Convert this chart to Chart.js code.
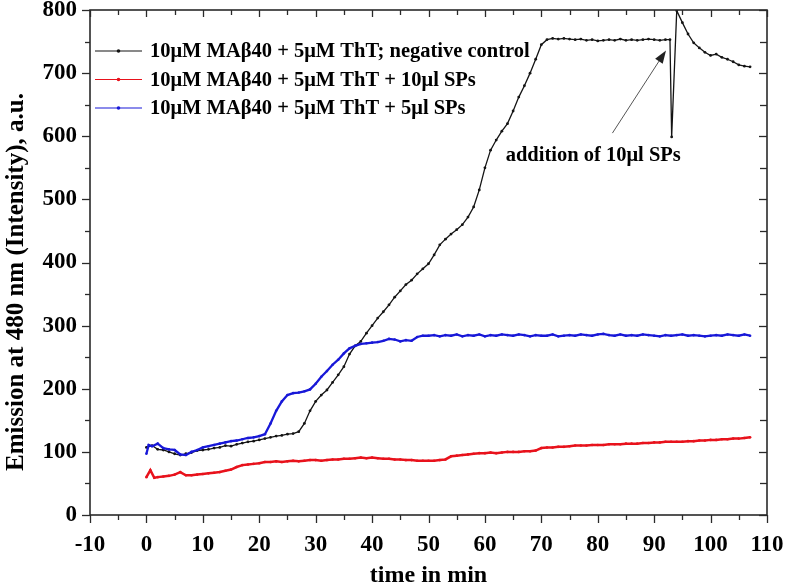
<!DOCTYPE html>
<html><head><meta charset="utf-8">
<script src="https://cdn.jsdelivr.net/npm/chart.js@4.4.1/dist/chart.umd.min.js"></script>
<style>html,body{margin:0;padding:0;background:#fff}#wrap{width:787px;height:586px}</style>
</head><body><div id="wrap"><canvas id="c" width="787" height="586"></canvas></div>
<script>
// ---------- DATA ----------
const seriesNames = [
  "10\u03bcM MA\u03b240 + 5\u03bcM ThT; negative control",
  "10\u03bcM MA\u03b240 + 5\u03bcM ThT + 10\u03bcl SPs",
  "10\u03bcM MA\u03b240 + 5\u03bcM ThT + 5\u03bcl SPs"
];
const xTickValues = [-10,0,10,20,30,40,50,60,70,80,90,100,110];
const yTickValues = [0,100,200,300,400,500,600,700,800];
const xTitle = "time in min";
const yTitle = "Emission at 480 nm (Intensity), a.u.";
const annotationText = "addition of 10\u03bcl SPs";
// annotation in data units: text centre, arrow tail, arrow tip
const annotationTextAt = [79.2, 569];
const arrowFrom = [82.6, 605];
const arrowTo = [92.1, 736];

const timesBlack = [0,1,2,3,4,5,6,7,8,9,10,11,12,13,14,15,16,17,18,19,20,21,22,23,24,25,26,27,28,29,30,31,32,33,34,35,36,37,38,39,40,41,42,43,44,45,46,47,48,49,50,51,52,53,54,55,56,57,58,59,60,61,62,63,64,65,66,67,68,69,70,71,72,73,74,75,76,77,78,79,80,81,82,83,84,85,86,87,88,89,90,91,92,92.8,93.1,94,95,96,97,98,99,100,101,102,103,104,105,106,107];
const valuesBlack = [107,110,104,103,100,97,95,97,99,102,103,104,106,107,110,109,112,114,116,117,119,121,123,125,126,128,129,132,145,165,180,190,198,210,222,235,255,268,275,288,300,312,322,333,345,355,365,372,382,390,398,412,428,437,445,452,460,472,488,515,550,578,594,608,620,640,662,680,700,722,745,753,755,754,755,754,753,754,752,753,751,752,753,752,754,752,753,752,753,754,753,752,753,753,599,799,780,762,748,740,733,728,730,725,722,718,713,711,710];

const timesRed = [0,0.7,1.4,2,3,4,5,6,7,8,9,10,11,12,13,14,15,16,17,18,19,20,21,22,23,24,25,26,27,28,29,30,31,32,33,34,35,36,37,38,39,40,41,42,43,44,45,46,47,48,49,50,51,52,53,54,55,56,57,58,59,60,61,62,63,64,65,66,67,68,69,70,71,72,73,74,75,76,77,78,79,80,81,82,83,84,85,86,87,88,89,90,91,92,93,94,95,96,97,98,99,100,101,102,103,104,105,106,107];
const valuesRed = [60,71,59,60,61,62,64,68,63,63,64,65,66,67,68,70,72,76,79,80,81,82,84,84,85,84,85,86,85,86,87,87,86,87,88,88,89,89,90,91,90,91,90,89,89,88,88,87,87,86,86,86,86,87,88,93,94,95,96,97,98,98,99,98,99,100,100,100,101,101,102,106,107,107,108,108,109,110,110,110,111,111,111,112,112,112,113,113,113,114,114,115,115,116,116,116,116,117,117,118,118,119,119,120,120,121,121,122,123];

const timesBlue = [0,0.4,1,2,3,4,5,6,7,8,9,10,11,12,13,14,15,16,17,18,19,20,21,22,23,24,25,26,27,28,29,30,31,32,33,34,35,36,37,38,39,40,41,42,43,44,45,46,47,48,49,50,51,52,53,54,55,56,57,58,59,60,61,62,63,64,65,66,67,68,69,70,71,72,73,74,75,76,77,78,79,80,81,82,83,84,85,86,87,88,89,90,91,92,93,94,95,96,97,98,99,100,101,102,103,104,105,106,107];
const valuesBlue = [97,111,109,113,106,104,103,96,95,100,103,107,109,111,113,115,117,118,120,122,123,125,128,145,165,180,190,193,194,196,199,208,219,228,238,246,256,264,268,271,272,273,274,276,279,278,275,277,276,282,284,284,285,283,285,284,286,283,285,284,286,283,285,284,286,285,284,286,285,283,285,284,284,286,283,284,285,284,286,285,284,286,287,285,284,286,284,285,284,286,285,284,283,285,284,285,286,284,285,284,283,284,285,284,286,285,284,286,284];

// ---------- CHART ----------
const FONT = '"Liberation Serif", "Times New Roman", serif';
const colBlack = '#141414', colRed = '#e8121c', colBlue = '#1818d8';
const pts = (ts, vs) => ts.map((t, i) => ({x: t, y: vs[i]}));

const decor = {
  id: 'decor',
  afterDraw(chart) {
    const {ctx, chartArea: a, scales: {x, y}} = chart;
    ctx.save();
    const line = (x1, y1, x2, y2) => { ctx.beginPath(); ctx.moveTo(x1, y1); ctx.lineTo(x2, y2); ctx.stroke(); };
    ctx.strokeStyle = '#2a2a2a';
    ctx.lineWidth = 1.6;
    ctx.strokeRect(a.left, a.top, a.right - a.left, a.bottom - a.top);
    ctx.lineWidth = 1.3;
    for (let v = -10; v <= 110; v += 5) {
      const px = Math.round(x.getPixelForValue(v)) + 0.5;
      const major = v % 10 === 0;
      line(px, a.bottom, px, a.bottom + (major ? 8 : 5));
      line(px, a.top, px, a.top + (major ? 7 : 5));
    }
    for (let v = 0; v <= 800; v += 50) {
      const py = Math.round(y.getPixelForValue(v)) + 0.5;
      const major = v % 100 === 0;
      line(a.left - (major ? 8 : 5), py, a.left, py);
      line(a.right - (major ? 8 : 7), py, a.right, py);
    }
    // legend
    const cols = [colBlack, colRed, colBlue];
    ctx.font = 'bold 20.5px ' + FONT;
    ctx.textBaseline = 'middle';
    ctx.textAlign = 'left';
    seriesNames.forEach((name, i) => {
      const cy = 51 + i * 28.5;
      ctx.strokeStyle = cols[i];
      ctx.lineWidth = 1.2;
      line(95, cy, 142, cy);
      ctx.fillStyle = cols[i];
      ctx.beginPath(); ctx.arc(118.5, cy, 1.8, 0, Math.PI * 2); ctx.fill();
      ctx.fillStyle = '#000';
      ctx.fillText(name, 150, cy + 1);
    });
    // annotation
    const fx = x.getPixelForValue(arrowFrom[0]), fy = y.getPixelForValue(arrowFrom[1]);
    const tx = x.getPixelForValue(arrowTo[0]), ty = y.getPixelForValue(arrowTo[1]);
    const ang = Math.atan2(ty - fy, tx - fx);
    ctx.strokeStyle = '#555'; ctx.fillStyle = '#222'; ctx.lineWidth = 1;
    line(fx, fy, tx - 10 * Math.cos(ang), ty - 10 * Math.sin(ang));
    ctx.beginPath();
    ctx.moveTo(tx, ty);
    ctx.lineTo(tx - 13 * Math.cos(ang) + 4.5 * Math.sin(ang), ty - 13 * Math.sin(ang) - 4.5 * Math.cos(ang));
    ctx.lineTo(tx - 13 * Math.cos(ang) - 4.5 * Math.sin(ang), ty - 13 * Math.sin(ang) + 4.5 * Math.cos(ang));
    ctx.closePath(); ctx.fill();
    ctx.fillStyle = '#000';
    ctx.font = 'bold 20.5px ' + FONT;
    ctx.textAlign = 'center';
    ctx.fillText(annotationText, x.getPixelForValue(annotationTextAt[0]), y.getPixelForValue(annotationTextAt[1]));
    // y title
    ctx.translate(16, 282);
    ctx.rotate(-Math.PI / 2);
    ctx.font = 'bold 25px ' + FONT;
    ctx.fillText(yTitle, 0, 1);
    ctx.restore();
  }
};

new Chart(document.getElementById('c'), {
  type: 'line',
  data: {
    datasets: [
      {label: seriesNames[0], data: pts(timesBlack, valuesBlack), borderColor: colBlack, backgroundColor: colBlack, borderWidth: 1.3, pointRadius: 1.4, pointBorderWidth: 0, order: 1},
      {label: seriesNames[1], data: pts(timesRed, valuesRed), borderColor: colRed, backgroundColor: colRed, borderWidth: 2.5, pointRadius: 1.3, pointBorderWidth: 0, order: 2},
      {label: seriesNames[2], data: pts(timesBlue, valuesBlue), borderColor: colBlue, backgroundColor: colBlue, borderWidth: 2.3, pointRadius: 1.3, pointBorderWidth: 0, order: 0}
    ]
  },
  options: {
    responsive: false,
    animation: false,
    devicePixelRatio: 1,
    layout: {padding: {left: 2, top: 10, right: 20, bottom: 0}},
    plugins: {legend: {display: false}, tooltip: {enabled: false}},
    scales: {
      x: {
        type: 'linear', min: -10, max: 110,
        afterBuildTicks: s => { s.ticks = xTickValues.map(v => ({value: v})); },
        afterFit: s => { s.height = 71; s.paddingLeft = 0; s.paddingRight = 0; },
        grid: {display: false, drawTicks: false},
        border: {display: false},
        ticks: {color: '#000', padding: 16, font: {family: FONT, size: 23, weight: 'bold'}, maxRotation: 0},
        title: {display: true, text: xTitle, color: '#000', padding: {top: 0, bottom: 0}, font: {family: FONT, size: 24, weight: 'bold', lineHeight: 0.85}}
      },
      y: {
        type: 'linear', min: 0, max: 800,
        afterBuildTicks: s => { s.ticks = yTickValues.map(v => ({value: v})); },
        afterFit: s => { s.width = 88; s.paddingTop = 0; s.paddingBottom = 0; },
        grid: {display: false, drawTicks: false},
        border: {display: false},
        ticks: {color: '#000', padding: 13, font: {family: FONT, size: 23, weight: 'bold'}}
      }
    }
  },
  plugins: [decor]
});
</script>
</body></html>
